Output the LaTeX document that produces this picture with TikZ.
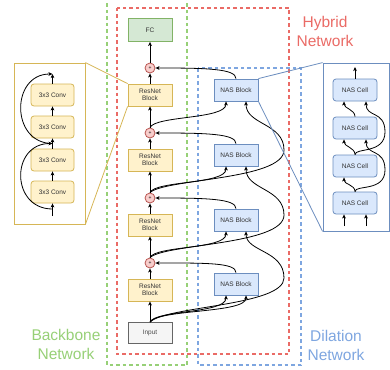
\documentclass[tikz,border=0pt]{standalone}
\usepackage{fontspec}
\setmainfont{Liberation Sans}
\usetikzlibrary{arrows.meta,calc}

\definecolor{ylwfill}{HTML}{FFF2CC}
\definecolor{ylwline}{HTML}{D6B656}
\definecolor{bluefill}{HTML}{DAE8FC}
\definecolor{blueline}{HTML}{6C8EBF}
\definecolor{grnfill}{HTML}{D5E8D4}
\definecolor{grnline}{HTML}{82B366}
\definecolor{redfill}{HTML}{F8CECC}
\definecolor{redline}{HTML}{B85450}
\definecolor{gryfill}{HTML}{F5F5F5}
\definecolor{gryline}{HTML}{666666}
\definecolor{hybrid}{HTML}{EA6B66}
\definecolor{backbone}{HTML}{97D077}
\definecolor{dilation}{HTML}{7EA6E0}

\begin{document}
\begin{tikzpicture}[x=1pt,y=1pt,
  block/.style={draw,line width=0.8pt,minimum width=44pt,minimum height=22pt,inner sep=0pt,align=center,font=\fontsize{6.5}{7.5}\selectfont,text=black!80},
  resblock/.style={block,fill=ylwfill,draw=ylwline},
  nasblock/.style={block,fill=bluefill,draw=blueline},
  fcblock/.style={block,fill=grnfill,draw=grnline,minimum height=23pt},
  inblock/.style={block,fill=gryfill,draw=gryline,minimum height=21pt,text=black!70},
  convcell/.style={resblock,minimum width=43pt,rounded corners=3pt},
  nascell/.style={nasblock,rounded corners=3pt},
  sumnode/.style={circle,draw=redline,fill=redfill,line width=0.8pt,minimum size=10pt,inner sep=0pt,font=\fontsize{5}{5}\selectfont},
  zoomframe/.style={draw,fill=white,line width=0.8pt,inner sep=0pt},
  flow/.style={-{Stealth[length=4pt,width=3.6pt,inset=1pt]},line width=0.8pt},
  region/.style={dash pattern=on 3.5pt off 3pt,line width=1.1pt},
  netlabel/.style={font=\fontsize{15.5}{19}\selectfont,align=center}]
  \useasboundingbox (0,0) rectangle (390,-369);

  %networks
  \draw[region,draw=backbone] (107,3) rectangle (187,-365);
  \draw[region,draw=hybrid] (117,-8) rectangle (289,-354);
  \draw[region,draw=dilation] (198,-68) rectangle (301,-365);
  \node[netlabel,text=hybrid] (hybridlabel) at (325,-31) {Hybrid\\Network};
  \node[netlabel,text=backbone] (backbonelabel) at (66,-344) {Backbone\\Network};
  \node[netlabel,text=dilation] (dilationlabel) at (336,-345) {Dilation\\Network};

  %backbone
  \node[fcblock] (fc) at (150,-30) {FC};
  \node[sumnode] (p1) at (150,-68) {+};
  \node[resblock] (res1) at (150,-95) {ResNet\\Block};
  \node[sumnode] (p2) at (150,-133) {+};
  \node[resblock] (res2) at (150,-160) {ResNet\\Block};
  \node[sumnode] (p3) at (150,-198) {+};
  \node[resblock] (res3) at (150,-225) {ResNet\\Block};
  \node[sumnode] (p4) at (150,-263) {+};
  \node[resblock] (res4) at (150,-290) {ResNet\\Block};
  \node[inblock] (input) at (150,-333) {Input};

  %dilation
  \node[nasblock] (nas1) at (236,-90) {NAS Block};
  \node[nasblock] (nas2) at (236,-155) {NAS Block};
  \node[nasblock] (nas3) at (236,-220) {NAS Block};
  \node[nasblock] (nas4) at (236,-284) {NAS Block};

  \draw[flow] (input) -- (res4);
  \draw[flow] (res4) -- (p4);
  \draw[flow] (p4) -- (res3);
  \draw[flow] (res3) -- (p3);
  \draw[flow] (p3) -- (res2);
  \draw[flow] (res2) -- (p2);
  \draw[flow] (p2) -- (res1);
  \draw[flow] (res1) -- (p1);
  \draw[flow] (p1) -- (fc);

  \draw[flow] (nas1.north) .. controls +(0,10) and +(50,0) .. (p1.east);
  \draw[flow] (nas2.north) .. controls +(0,10) and +(50,0) .. (p2.east);
  \draw[flow] (nas3.north) .. controls +(0,10) and +(50,0) .. (p3.east);
  \draw[flow] (nas4.north) .. controls +(0,10) and +(50,0) .. (p4.east);

  \draw[flow] (p2.north) .. controls +(5,12) and +(0,-18) .. ([xshift=-10pt]nas1.south);
  \draw[flow] (p3.north) .. controls +(5,12) and +(0,-18) .. ([xshift=-10pt]nas2.south);
  \draw[flow] (p4.north) .. controls +(5,12) and +(0,-18) .. ([xshift=-10pt]nas3.south);
  \draw[flow] (input.north) .. controls +(5,12) and +(0,-18) .. ([xshift=-10pt]nas4.south);
  \draw[flow] (input.north) .. controls +(8,13) and +(0,-18) .. ([xshift=10pt]nas4.south);

  \draw[flow] (p3.north) .. controls +(15,14) and (284,-180) .. (284,-150)
    .. controls (284,-123) and (246,-125) .. ([xshift=10pt]nas1.south);
  \draw[flow] (p4.north) .. controls +(15,14) and (284,-245) .. (284,-215)
    .. controls (284,-188) and (246,-190) .. ([xshift=10pt]nas2.south);
  \draw[flow] (input.north) .. controls +(15,16) and (284,-306) .. (284,-278)
    .. controls (284,-250) and (246,-252) .. ([xshift=10pt]nas3.south);

  %resnet block inside
  \node[zoomframe,draw=ylwline,minimum width=71pt,minimum height=161pt] (resview) at (49.5,-143.5) {};
  \draw[draw=ylwline,line width=0.8pt] (resview.north east) -- (res1.north west);
  \draw[draw=ylwline,line width=0.8pt] (resview.south east) -- (res1.south west);
  \node[convcell] (cv1) at (52.5,-95) {3x3 Conv};
  \node[convcell] (cv2) at (52.5,-127) {3x3 Conv};
  \node[convcell] (cv3) at (52.5,-160) {3x3 Conv};
  \node[convcell] (cv4) at (52.5,-192) {3x3 Conv};
  \coordinate (cvin) at (52.5,-216);
  \coordinate (cvout) at (52.5,-74);
  \coordinate (cvj0) at (52.5,-209);
  \coordinate (cvj1) at ($(cv3.north)!0.5!(cv2.south)$);
  \draw[flow] (cvin) -- (cv4);
  \draw[flow] (cv4) -- (cv3);
  \draw[flow] (cv3) -- (cv2);
  \draw[flow] (cv2) -- (cv1);
  \draw[flow] (cv1) -- (cvout);
  \draw[flow] (cvj0) .. controls +(-42,0) and +(-42,0) .. (cvj1);
  \draw[flow] (cvj1) .. controls +(-42,0) and +(-42,0) .. (cvout);

  %nas block inside
  \node[zoomframe,draw=blueline,minimum width=66pt,minimum height=168pt] (nasview) at (356,-147) {};
  \draw[draw=blueline,line width=0.8pt] (nas1.north east) -- (nasview.north west);
  \draw[draw=blueline,line width=0.8pt] (nas1.south east) -- (nasview.south west);
  \node[nascell] (c1) at (355,-90) {NAS Cell};
  \node[nascell] (c2) at (355,-128) {NAS Cell};
  \node[nascell] (c3) at (355,-166) {NAS Cell};
  \node[nascell] (c4) at (355,-203) {NAS Cell};
  \coordinate (cin1) at (344,-226);
  \coordinate (cin2) at (366,-226);
  \coordinate (cout) at (355,-67);
  \draw[flow] (cin1) -- ([xshift=-11pt]c4.south);
  \draw[flow] (cin2) -- ([xshift=11pt]c4.south);
  \draw[flow] (c4.north) .. controls +(0,7) and +(0,-7) .. ([xshift=-11pt]c3.south);
  \draw[flow] (c3.north) .. controls +(0,7) and +(0,-7) .. ([xshift=-11pt]c2.south);
  \draw[flow] (c2.north) .. controls +(0,7) and +(0,-7) .. ([xshift=-11pt]c1.south);
  \draw[flow] (c4.north) .. controls +(0,7) and (385,-192) .. (385,-170)
    .. controls (385,-148) and (366,-156) .. ([xshift=11pt]c2.south);
  \draw[flow] (c3.north) .. controls +(0,7) and (385,-154) .. (385,-132)
    .. controls (385,-110) and (366,-118) .. ([xshift=11pt]c1.south);
  \draw[flow] (c1) -- (cout);
\end{tikzpicture}
\end{document}
